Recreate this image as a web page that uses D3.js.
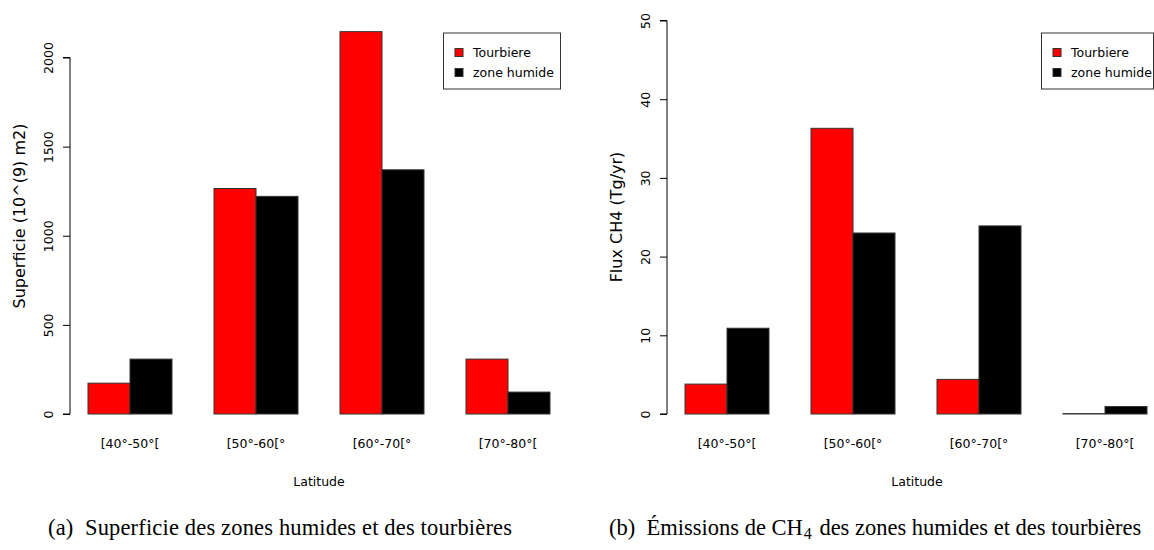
<!DOCTYPE html>
<html>
<head>
<meta charset="utf-8">
<script src="https://cdn.jsdelivr.net/npm/d3@7"></script>
<style>
  body { margin: 0; background: #fff; }
  svg { display: block; }
</style>
</head>
<body>
<svg id="chart" width="1154" height="550"></svg>
<script>
// ---- data ----
const categories = ["[40°-50°[", "[50°-60[°", "[60°-70[°", "[70°-80°["];
const seriesNames = ["Tourbiere", "zone humide"];
const seriesColors = ["#ff0000", "#000000"];
// Panel (a): Superficie (10^9 m2)
const superficieTourbiere = [173, 1265, 2145, 308];
const superficieZoneHumide = [308, 1221, 1370, 123];
const superficieTicks = [0, 500, 1000, 1500, 2000];
// Panel (b): Flux CH4 (Tg/yr)
const fluxTourbiere = [3.8, 36.3, 4.4, 0.05];
const fluxZoneHumide = [10.9, 23.0, 23.9, 0.95];
const fluxTicks = [0, 10, 20, 30, 40, 50];

const svg = d3.select("#chart");
const FONT = "DejaVu Sans, sans-serif";
const FS = 12.5;

function panel(opt) {
  const g = svg.append("g");
  const x = d3.scaleBand().domain(categories).range(opt.xRange).paddingInner(1/3).paddingOuter(0);
  const xs = d3.scaleBand().domain(seriesNames).range([0, x.bandwidth()]);
  const y = d3.scaleLinear().domain(opt.yDomain).range(opt.yRange);
  const series = [opt.s1, opt.s2];

  // bars
  seriesNames.forEach((s, si) => {
    g.selectAll(null).data(categories).enter().append("rect")
      .attr("x", c => x(c) + xs(s))
      .attr("width", xs.bandwidth())
      .attr("y", (c, i) => y(series[si][i]))
      .attr("height", (c, i) => y(0) - y(series[si][i]))
      .attr("fill", seriesColors[si])
      .attr("stroke", "#333")
      .attr("stroke-width", 1);
  });

  // y axis
  const ax = g.append("g").attr("transform", `translate(${opt.axisX},0)`)
    .call(d3.axisLeft(y).tickValues(opt.ticks).tickSize(7).tickFormat(d3.format("d")));
  ax.select(".domain").attr("d", `M-7,${y(opt.ticks[0])}H0V${y(opt.ticks[opt.ticks.length-1])}H-7`)
    .attr("stroke", "#000");
  ax.selectAll(".tick line").attr("stroke", "#000");
  ax.selectAll(".tick text")
    .attr("font-family", FONT).attr("font-size", FS).attr("fill", "#000")
    .attr("x", null).attr("dy", null)
    .attr("text-anchor", "middle")
    .attr("transform", "translate(-22,0) rotate(-90)")
    .attr("y", 0)
    .attr("dominant-baseline", "central");

  // category labels
  g.selectAll(null).data(categories).enter().append("text")
    .attr("x", c => x(c) + x.bandwidth() / 2)
    .attr("y", 448)
    .attr("text-anchor", "middle")
    .attr("font-family", FONT).attr("font-size", FS)
    .text(c => c);

  // x label
  g.append("text")
    .attr("x", opt.xLabelX).attr("y", 486)
    .attr("text-anchor", "middle")
    .attr("font-family", FONT).attr("font-size", FS)
    .text("Latitude");

  // y label
  g.append("text")
    .attr("transform", `translate(${opt.yLabelX},${opt.yLabelY}) rotate(-90)`)
    .attr("text-anchor", "middle")
    .attr("dominant-baseline", "central")
    .attr("font-family", FONT).attr("font-size", 16)
    .text(opt.yLabel);

  // legend
  const lg = g.append("g").attr("transform", `translate(${opt.legendX},33)`);
  lg.append("rect").attr("x", 0).attr("y", 0).attr("width", opt.legendW).attr("height", 56)
    .attr("fill", "#fff").attr("stroke", "#333").attr("stroke-width", 1);
  seriesNames.forEach((s, i) => {
    lg.append("rect").attr("x", 11.5).attr("y", 15.5 + i * 20).attr("width", 8).attr("height", 8)
      .attr("fill", seriesColors[i]).attr("stroke", "#333").attr("stroke-width", 1);
    lg.append("text").attr("x", 29.5).attr("y", 19.5 + i * 20)
      .attr("dominant-baseline", "central")
      .attr("font-family", FONT).attr("font-size", FS)
      .text(s);
  });
}

panel({
  xRange: [88, 550], yDomain: [0, 2000], yRange: [414, 57.5],
  s1: superficieTourbiere, s2: superficieZoneHumide, ticks: superficieTicks,
  axisX: 70, xLabelX: 319, yLabelX: 19, yLabelY: 216,
  yLabel: "Superficie (10^(9) m2)", legendX: 443.5, legendW: 117
});
panel({
  xRange: [685, 1147], yDomain: [0, 50], yRange: [414, 20.5],
  s1: fluxTourbiere, s2: fluxZoneHumide, ticks: fluxTicks,
  axisX: 667, xLabelX: 917, yLabelX: 616, yLabelY: 217,
  yLabel: "Flux CH4 (Tg/yr)", legendX: 1041.5, legendW: 112
});

// captions
const SERIF = "Liberation Serif, DejaVu Serif, serif";
const CFS = 22.5;
svg.append("text").attr("x", 48).attr("y", 535)
  .attr("font-family", SERIF).attr("font-size", CFS).attr("xml:space", "preserve")
  .attr("textLength", 464).attr("lengthAdjust", "spacing")
  .text("(a)  Superficie des zones humides et des tourbières");
const cb = svg.append("text").attr("x", 609).attr("y", 535)
  .attr("font-family", SERIF).attr("font-size", CFS).attr("xml:space", "preserve");
cb.append("tspan").text("(b)  Émissions de CH");
cb.append("tspan").attr("font-size", 16).attr("dy", 4).attr("dx", 1).text("4");
cb.append("tspan").attr("dy", -4).attr("dx", 2).text(" des zones humides et des tourbières");
</script>
</body>
</html>
